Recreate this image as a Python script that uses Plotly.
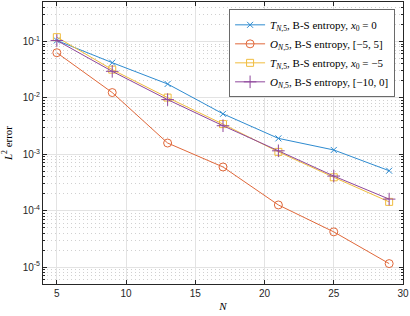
import plotly.graph_objects as go

N = [5, 9, 13, 17, 21, 25, 29]
err_T_x0_0 = [0.104, 0.042, 0.0176, 0.0052, 0.00191, 0.00119, 0.00051]
err_O_m5_5 = [0.063, 0.0124, 0.00158, 0.000594, 0.000126, 4.2e-5, 1.15e-5]
err_T_x0_m5 = [0.119, 0.0316, 0.0101, 0.00342, 0.00110, 0.00039, 0.000143]
err_O_m10_0 = [0.104, 0.0295, 0.0093, 0.0032, 0.00115, 0.00041, 0.000160]

names = [
    "<i>T</i><sub><i>N</i>,5</sub>, B-S entropy, <i>x</i><sub>0</sub> = 0",
    "<i>O</i><sub><i>N</i>,5</sub>, B-S entropy, [\u22125, 5]",
    "<i>T</i><sub><i>N</i>,5</sub>, B-S entropy, <i>x</i><sub>0</sub> = \u22125",
    "<i>O</i><sub><i>N</i>,5</sub>, B-S entropy, [\u221210, 0]",
]
series = [err_T_x0_0, err_O_m5_5, err_T_x0_m5, err_O_m10_0]
colors = ["#2E8BD0", "#E0683A", "#F0BC3E", "#8E479B"]
symbols = ["x-thin-open", "circle-open", "square-open", "cross-thin-open"]
sizes = [6, 8, 7, 9]

ytick_vals = [1e-5, 1e-4, 1e-3, 1e-2, 1e-1]
ytick_text = ["10<sup>-5</sup>", "10<sup>-4</sup>", "10<sup>-3</sup>", "10<sup>-2</sup>", "10<sup>-1</sup>"]
xtick_vals = [5, 10, 15, 20, 25, 30]

minor_vals = [m * 10.0 ** e for e in range(-6, 0) for m in range(2, 10)]

fig = go.Figure()
for s, nm, c, sym, sz in zip(series, names, colors, symbols, sizes):
    fig.add_trace(go.Scatter(
        x=N, y=s, name=nm, mode="lines+markers",
        line=dict(color=c, width=1),
        marker=dict(symbol=sym, size=sz, color=c, line=dict(color=c, width=1)),
    ))

axis_col = "#262626"
fig.update_layout(
    width=410, height=316,
    margin=dict(l=43, r=7, t=2, b=32),
    paper_bgcolor="white", plot_bgcolor="white",
    font=dict(family="Liberation Sans, Arial, sans-serif", size=10, color=axis_col),
    showlegend=True,
    legend=dict(
        x=0.978, y=0.974, xanchor="right", yanchor="top",
        bgcolor="white", bordercolor="#6a6a6a", borderwidth=1,
        font=dict(family="Liberation Serif, Times New Roman, serif", size=11, color="#000000"),
        tracegroupgap=0, itemwidth=30,
    ),
)
fig.update_xaxes(
    range=[4, 30], tickvals=xtick_vals,
    ticks="inside", ticklen=4, tickcolor=axis_col,
    showline=True, linecolor=axis_col, linewidth=1, mirror="allticks",
    showgrid=True, gridcolor="#e3e3e3", gridwidth=1, zeroline=False,
    tickfont=dict(size=10, color=axis_col),
    ticklabeloverflow="allow",
    title=dict(text="<i>N</i>", font=dict(family="Liberation Serif, serif", size=11, color="#000000"), standoff=4),
)
fig.update_yaxes(
    type="log", range=[-5.301, -0.301],
    tickmode="array", tickvals=ytick_vals, ticktext=ytick_text,
    ticks="inside", ticklen=4, tickcolor=axis_col,
    showline=True, linecolor=axis_col, linewidth=1, mirror="allticks",
    showgrid=True, gridcolor="#e3e3e3", gridwidth=1, zeroline=False,
    tickfont=dict(size=10, color=axis_col),
    minor=dict(tickmode="array", tickvals=minor_vals, ticks="inside", ticklen=2,
               tickcolor=axis_col, showgrid=True, gridcolor="#d0d0d0", griddash="1px,3px", gridwidth=1),
    title=dict(text="<i>L</i><sup>2</sup> error", font=dict(family="Liberation Serif, serif", size=11, color="#000000"), standoff=8),
)
fig.write_html("out.html", config={"displayModeBar": False},
               post_script="document.body.style.margin='0';")
